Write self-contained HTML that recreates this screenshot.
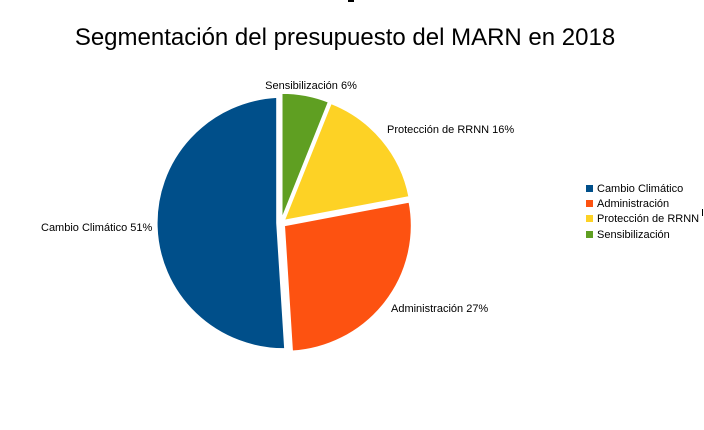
<!DOCTYPE html>
<html><head><meta charset="utf-8"><style>
body{margin:0;background:#fff;}
svg text{font-family:"Liberation Sans",sans-serif;fill:#000;}
</style></head><body>
<svg width="704" height="425" viewBox="0 0 704 425" xmlns="http://www.w3.org/2000/svg">
<rect width="704" height="425" fill="#fff"/>
<text x="345" y="45" font-size="24" text-anchor="middle">Segmentación del presupuesto del MARN en 2018</text>
<g stroke="#fff" stroke-width="1.5" transform="translate(281,223) scale(1.01,1) translate(-283,-223)">
<path transform="translate(0.75,-3.9)" d="M283,223 L283,97 A126,126 0 0 1 329.4,105.8 Z" fill="#5f9f22"/>
<path transform="translate(3.1,-2.5)" d="M283,223 L329.4,105.8 A126,126 0 0 1 406.8,199.4 Z" fill="#fdd225"/>
<path transform="translate(3.2,2.5)" d="M283,223 L406.8,199.4 A126,126 0 0 1 290.9,348.8 Z" fill="#fd5211"/>
<path transform="translate(-4,0.1)" d="M283,223 L290.9,348.8 A126,126 0 0 1 283,97 Z" fill="#004f8a"/>
</g>
<g font-size="11">
<text x="311" y="89" text-anchor="middle">Sensibilización 6%</text>
<text x="387" y="133">Protección de RRNN 16%</text>
<text x="391" y="312">Administración 27%</text>
<text x="41" y="231">Cambio Climático 51%</text>
</g>
<g font-size="11">
<rect x="586" y="185" width="7" height="7" fill="#004f8a"/><text x="597" y="192">Cambio Climático</text>
<rect x="586" y="200" width="7" height="7" fill="#fd5211"/><text x="597" y="207">Administración</text>
<rect x="586" y="215" width="7" height="7" fill="#fdd225"/><text x="597" y="222">Protección de RRNN</text>
<rect x="586" y="231" width="7" height="7" fill="#5f9f22"/><text x="597" y="238">Sensibilización</text>
</g>
<rect x="702" y="209" width="1" height="7" fill="#000"/>
<rect x="348" y="0" width="6" height="2" fill="#000"/>
</svg>
</body></html>
